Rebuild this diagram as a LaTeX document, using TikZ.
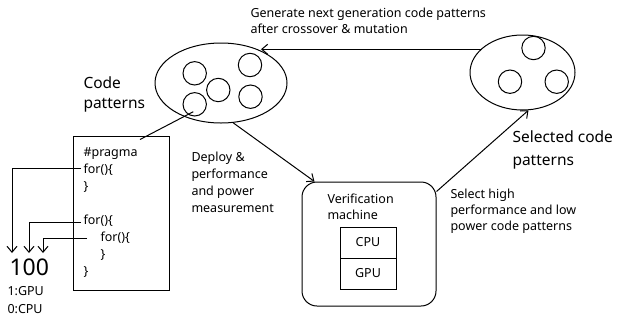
\documentclass[tikz,border=0pt]{standalone}
\usepackage{fontspec}
\setmainfont{Noto Sans}
\usetikzlibrary{arrows.meta,shapes.geometric}
\begin{document}
\begin{tikzpicture}[x=1pt,y=-1pt,
  line width=1pt,
  arr/.style={-{Straight Barb[length=6pt,width=10pt,line width=1pt]}},
  txt/.style={inner sep=0pt,anchor=north west,align=left,font=\fontsize{12.5}{16}\selectfont},
  bigtxt/.style={inner sep=0pt,anchor=north west,align=left,font=\fontsize{15.5}{21}\selectfont},
  grp/.style={draw,ellipse,inner sep=0pt},
  sc/.style={draw,circle,minimum size=23.4pt,inner sep=0pt},
  unit/.style={draw,minimum width=56pt,minimum height=31pt,inner sep=0pt,font=\fontsize{12.5}{15}\selectfont}]
\useasboundingbox (0,0) rectangle (617,322);

% ellipses
\node[grp,minimum width=132pt,minimum height=80pt] (L) at (221,83) {};
\node[grp,minimum width=105pt,minimum height=75pt] (R) at (522.5,72.5) {};
\node[sc] (c1) at (194.7,73.3) {};
\node[sc] (c2) at (218.3,90) {};
\node[sc] (c3) at (250,65) {};
\node[sc] (c4) at (250.5,96.7) {};
\node[sc] (c5) at (194.7,104.3) {};
\node[sc] (r1) at (533.5,48) {};
\node[sc] (r2) at (510,81.7) {};
\node[sc] (r3) at (556.7,81.7) {};

% texts
\node[txt,font=\fontsize{12.5}{15.5}\selectfont] (gen) at (250,7.5) {Generate next generation code patterns\\after crossover \& mutation};
\node[bigtxt,font=\fontsize{15.5}{20}\selectfont] (cp) at (83,76) {Code\\patterns};
\node[bigtxt,font=\fontsize{15.5}{23}\selectfont] (scp) at (512,130) {Selected code\\patterns};
\node[txt,font=\fontsize{12.5}{17}\selectfont] (dep) at (191,151.5) {Deploy \&\\performance\\and power\\measurement};
\node[txt,font=\fontsize{12.5}{16}\selectfont] (sel) at (450,188.5) {Select high\\performance and low\\power code patterns};

% code box
\node[draw,minimum width=96pt,minimum height=154pt,inner sep=0pt] (CB) at (121,213) {};
\node[txt,font=\fontsize{12.5}{17}\selectfont] (code) at (83,147.5) {\#pragma\\for()\{\\\}\\[17pt]for()\{\\\hspace*{17pt}for()\{\\\hspace*{17pt}\}\\\}};

% verification machine
\node[draw,rounded corners=15pt,minimum width=134pt,minimum height=124pt,inner sep=0pt] (V) at (369,244) {};
\node[txt] (vt) at (327,193.5) {Verification\\machine};
\node[unit] (cpu) at (368,242.5) {CPU};
\node[unit] (gpu) at (368,273.5) {GPU};

% 100
\node[inner sep=0pt,anchor=base west,font=\fontsize{23}{23}\selectfont] (hund) at (9,275) {100};
\node[txt,font=\fontsize{12.5}{18}\selectfont] (leg) at (7,286) {1:GPU\\0:CPU};

% connectors
\draw[arr] (R.151) -- (L.39 |- R.151);
\draw ([shift={(19pt,-4pt)}]CB.north) -- ([shift={(-1.4pt,-7.4pt)}]c5.center);
\draw[arr] (L.-73) -- ([xshift=13pt]V.north west);
\draw[arr] ([yshift=-10pt]V.north east) -- (R.-81);

\coordinate (s1) at (81,168);
\coordinate (s2) at (81,222);
\coordinate (s3) at (87,238);
\coordinate (t1) at (12,253);
\coordinate (t2) at (29,253);
\coordinate (t3) at (43,253);
\draw[arr] (s1) -| (t1);
\draw[arr] (s2) -| (t2);
\draw[arr] (s3) -| (t3);
\end{tikzpicture}
\end{document}
